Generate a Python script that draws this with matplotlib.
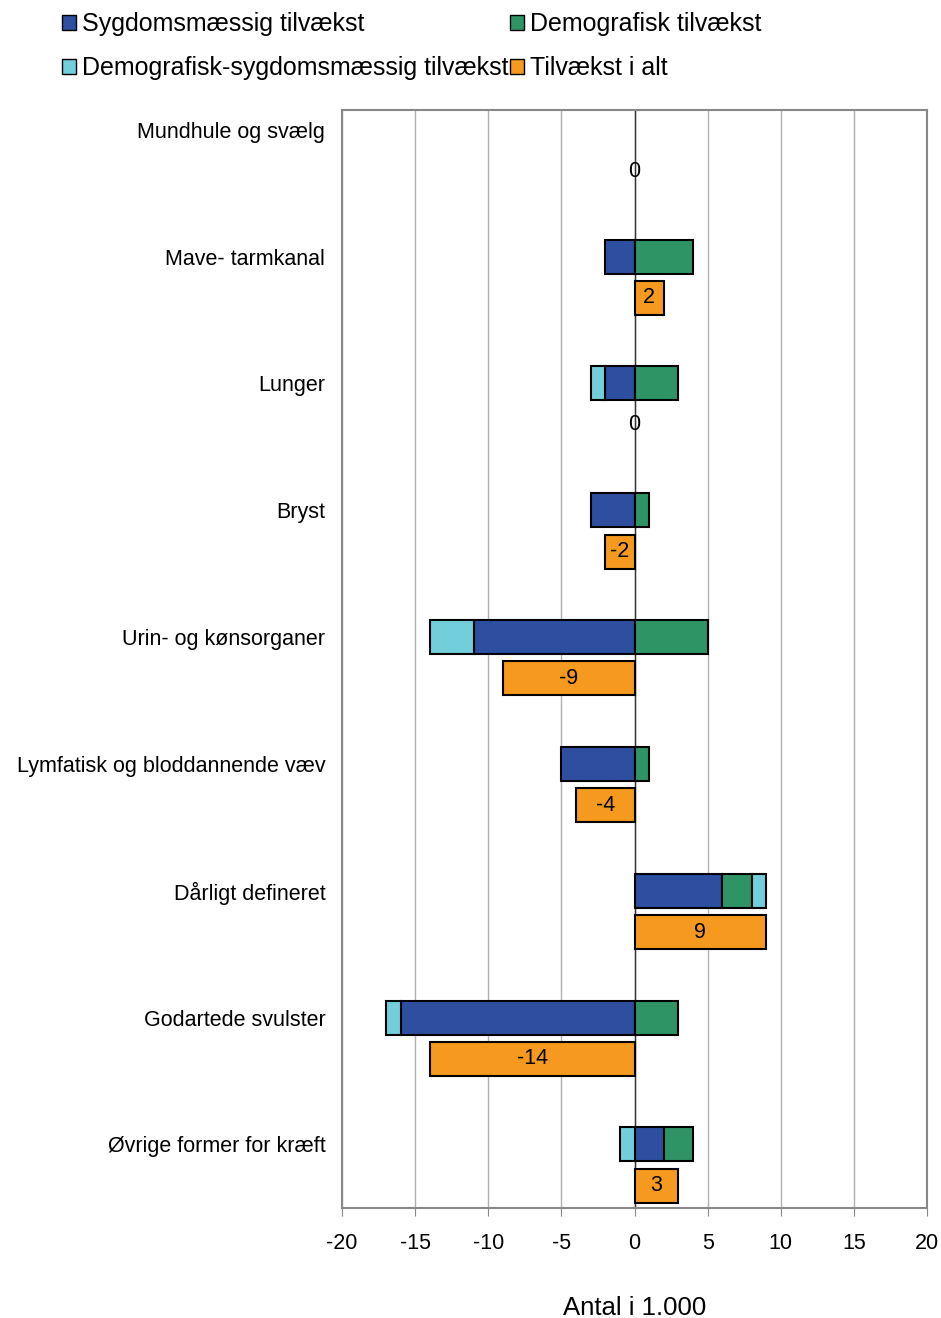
import numpy as np
import matplotlib.pyplot as plt
from matplotlib.patches import Patch

plt.rcParams['font.family'] = ['Liberation Sans', 'DejaVu Sans']
plt.rcParams['axes.unicode_minus'] = False

# Data (antal i 1.000)
kategorier = ['Mundhule og svælg', 'Mave- tarmkanal', 'Lunger', 'Bryst',
              'Urin- og kønsorganer', 'Lymfatisk og bloddannende væv',
              'Dårligt defineret', 'Godartede svulster', 'Øvrige former for kræft']
sygdom = [0, -2, -2, -3, -11, -5, 6, -16, 2]
demografisk = [0, 4, 3, 1, 5, 1, 2, 3, 2]
demo_sygdom = [0, 0, -1, 0, -3, 0, 1, -1, -1]
i_alt = [0, 2, 0, -2, -9, -4, 9, -14, 3]

farve_syg = '#2E4FA0'
farve_demo = '#2E9466'
farve_ds = '#72CEDB'
farve_alt = '#F59A1E'

fig = plt.figure(figsize=(9.41, 13.18), dpi=100)
ax = fig.add_axes([342 / 941, 1 - 1208 / 1318, 585 / 941, 1098 / 1318])

y = np.arange(len(kategorier))
off = 0.163
h = 0.268
kw = dict(height=h, edgecolor='black', linewidth=1.5, zorder=3)

# stablede søjler: negative til venstre, positive til højre
pos_left = np.zeros(len(y))
neg_left = np.zeros(len(y))
for vals, c in [(sygdom, farve_syg), (demografisk, farve_demo), (demo_sygdom, farve_ds)]:
    vals = np.array(vals, dtype=float)
    left = np.where(vals >= 0, pos_left, neg_left)
    mask = vals != 0
    ax.barh(y[mask] - off, vals[mask], left=left[mask], color=c, **kw)
    pos_left += np.where(vals > 0, vals, 0)
    neg_left += np.where(vals < 0, vals, 0)

# tilvækst i alt
ia = np.array(i_alt, dtype=float)
m = ia != 0
ax.barh(y[m] + off, ia[m], color=farve_alt, **kw)
for yi, v in zip(y, i_alt):
    ax.text(v / 2, yi + off, f'{v}', ha='center', va='center', fontsize=15.5, zorder=4)

ax.axvline(0, color='#333333', linewidth=1, zorder=2)

ax.set_xlim(-20, 20)
ax.set_xticks(np.arange(-20, 21, 5))
ax.set_ylim(8 + 43 / 126.8, -40.5 / 126.8)
ax.set_yticks(y - off)
ax.set_yticklabels(kategorier, fontsize=15.5)
ax.tick_params(axis='y', length=0, pad=12)
ax.tick_params(axis='x', labelsize=15.5, direction='out', length=6, color='#888888', pad=12)
ax.grid(axis='x', color='#b0b0b0', linewidth=1, zorder=0)
ax.set_axisbelow(True)
for s in ax.spines.values():
    s.set_color('#888888')
    s.set_linewidth(1.5)

ax.set_xlabel('Antal i 1.000', fontsize=18.5, labelpad=30)

handles = [Patch(facecolor=farve_syg, edgecolor='black', label='Sygdomsmæssig tilvækst'),
           Patch(facecolor=farve_ds, edgecolor='black', label='Demografisk-sygdomsmæssig tilvækst'),
           Patch(facecolor=farve_demo, edgecolor='black', label='Demografisk tilvækst'),
           Patch(facecolor=farve_alt, edgecolor='black', label='Tilvækst i alt')]
fig.legend(handles=handles, loc='upper left', bbox_to_anchor=(52 / 941, 1 - 2 / 1318),
           ncol=2, frameon=False, fontsize=18, handlelength=0.55, handleheight=0.55,
           handletextpad=0.25, columnspacing=0.05, labelspacing=0.8, borderaxespad=0)

fig.savefig('out.png', dpi=100)
